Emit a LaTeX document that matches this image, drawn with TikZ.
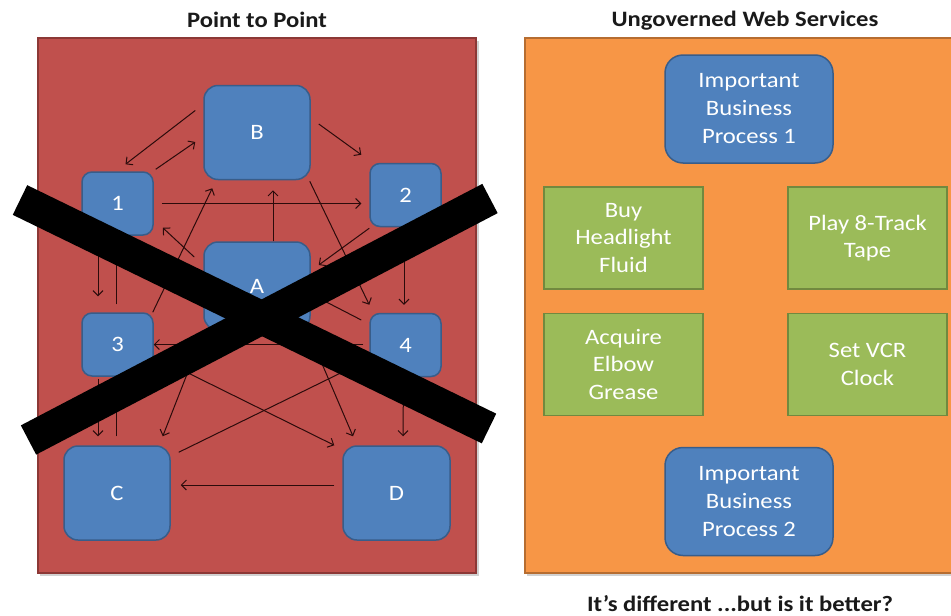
\documentclass[tikz,border=0pt]{standalone}
\usepackage{fontspec}
\setmainfont{Carlito}[FakeStretch=1.12]
\usetikzlibrary{arrows.meta,calc}
\definecolor{redfill}{HTML}{C0504D}
\definecolor{redline}{HTML}{8C3836}
\definecolor{orfill}{HTML}{F79646}
\definecolor{orline}{HTML}{B66D31}
\definecolor{bluefill}{HTML}{4F81BD}
\definecolor{blueline}{HTML}{385D8A}
\definecolor{grfill}{HTML}{9BBB59}
\definecolor{grline}{HTML}{71893F}
\definecolor{arrowcol}{HTML}{2B0B0B}
\definecolor{titlecol}{HTML}{1A1A1A}
\begin{document}
\begin{tikzpicture}[x=1pt,y=-1pt,
  bluebox/.style={draw=blueline, fill=bluefill, line width=1.5pt, rounded corners=12pt,
    text=white, align=center, inner sep=0pt, font=\fontsize{22}{28}\selectfont},
  smallbox/.style={bluebox, minimum width=71pt, minimum height=63pt, rounded corners=10pt},
  bigbox/.style={bluebox, minimum width=106pt, minimum height=94pt, rounded corners=14pt},
  procbox/.style={bluebox, minimum width=168pt, minimum height=108pt, rounded corners=18pt},
  greenbox/.style={draw=grline, fill=grfill, line width=1.5pt, text=white, align=center,
    inner sep=0pt, font=\fontsize{22}{27.5}\selectfont, minimum width=159pt, minimum height=102pt},
  conn/.style={draw=arrowcol, line width=1pt, -{Straight Barb[length=5pt,width=10pt]}},
  cross/.style={line width=33pt, black},
  title/.style={font=\bfseries\fontsize{22}{26}\selectfont, text=titlecol}
]
\useasboundingbox (0,0) rectangle (951,616);
\fill[white] (0,0) rectangle (951,616);

% panels
\fill[black!18] (40,41) rectangle (479,576);
\draw[draw=redline, fill=redfill, line width=1.5pt] (38,38) rectangle (476,573);
\fill[black!18] (527,41) rectangle (960,576);
\draw[draw=orline, fill=orfill, line width=1.5pt] (525,38) rectangle (958,573);

% titles
\node[title] (t1) at (257,20) {Point to Point};
\node[title] (t2) at (745,21) {Ungoverned Web Services};
\node[title] (t3) at (740,604) {It’s different ...but is it better?};

% left nodes
\node[bigbox] (lB) at (257,132.5) {B};
\node[smallbox] (l1) at (117.5,203.5) {1};
\node[smallbox] (l2) at (405.5,195) {2};
\node[bigbox, minimum height=88pt] (lA) at (257,286) {A};
\node[smallbox] (l3) at (117.5,344.5) {3};
\node[smallbox] (l4) at (405.5,345) {4};
\node[bigbox] (lC) at (117,493) {C};
\node[bigbox, minimum width=107pt] (lD) at (396.5,493) {D};

% connectors
\draw[conn] ([shift={(-8,-22)}]lB.west) -- ([shift={(8,-7)}]l1.north);
\draw[conn] ([shift={(2,-2)}]l1.north east) -- ([shift={(-8,9.5)}]lB.west);
\draw[conn] ([shift={(8,-8.5)}]lB.east) -- ([shift={(-8,-8)}]l2.north west);
\draw[conn] ([shift={(8,0)}]l1.east) -- ([shift={(-8,8.5)}]l2.west);
\draw[conn] ([shift={(16,0)}]lA.north) -- ([shift={(16,10)}]lB.south);
\draw[conn] ([shift={(0,1)}]l2.south west) -- ([shift={(8,-21)}]lA.east);
\draw[conn] ([shift={(-1,1)}]lB.south east) -- ([shift={(0,-8)}]l4.north west);
\draw[conn] ([shift={(-1.5,1)}]l2.south) -- ([shift={(-1.5,-8)}]l4.north);
\draw[conn] ([shift={(-19.5,2)}]l1.south) -- ([shift={(-19.5,-16)}]l3.north);
\draw[conn] ([shift={(-1.5,-8)}]l3.north) -- ([shift={(-1.5,5)}]l1.south);
\draw[conn] ([shift={(-1,0)}]l3.north east) -- ([shift={(9,8)}]lB.south west);
\draw[conn] ([shift={(-9,-29)}]lA.west) -- ([shift={(9,-8)}]l1.south east);
\draw[conn] ([shift={(-8,-25)}]l4.west) -- ([shift={(2,9)}]lA.east);
\draw[conn] ([shift={(-6,-0.5)}]l4.west) -- (l3.east);
\draw[conn] ([shift={(0,11.5)}]l3.east) -- ([shift={(-8,0)}]lD.north west);
\draw[conn] ([shift={(0,2)}]lA.south west) -- ([shift={(-8,-9)}]lC.north east);
\draw[conn] ([shift={(8,7)}]lC.north east) -- ([shift={(0,14)}]l4.west);
\draw[conn] ([shift={(-2,2)}]lA.south east) -- ([shift={(-43.5,-9)}]lD.north);
\draw[conn] ([shift={(-2,0)}]l4.south) -- ([shift={(6.5,-9)}]lD.north);
\draw[conn] ([shift={(-19.5,2)}]l3.south) -- ([shift={(-19,-9)}]lC.north);
\draw[conn] ([shift={(-1,-9)}]lC.north) -- ([shift={(-1.5,6)}]l3.south);
\draw[conn] ([shift={(-8,-8)}]lD.west) -- ([shift={(10,-8)}]lC.east);

% the big X
\draw[cross] (20,200) -- (489,428.5);
\draw[cross] (28.5,440) -- (490,198.5);

% right nodes
\node[procbox] (p1) at (749,109) {Important\\Business\\Process 1};
\node[greenbox] (g1) at (623.5,238) {Buy\\Headlight\\Fluid};
\node[greenbox] (g2) at (867.5,238) {Play 8-Track\\Tape};
\node[greenbox] (g3) at (623.5,364.5) {Acquire\\Elbow\\Grease};
\node[greenbox] (g4) at (867.5,364.5) {Set VCR\\Clock};
\node[procbox] (p2) at (749,501.5) {Important\\Business\\Process 2};
\end{tikzpicture}
\end{document}
